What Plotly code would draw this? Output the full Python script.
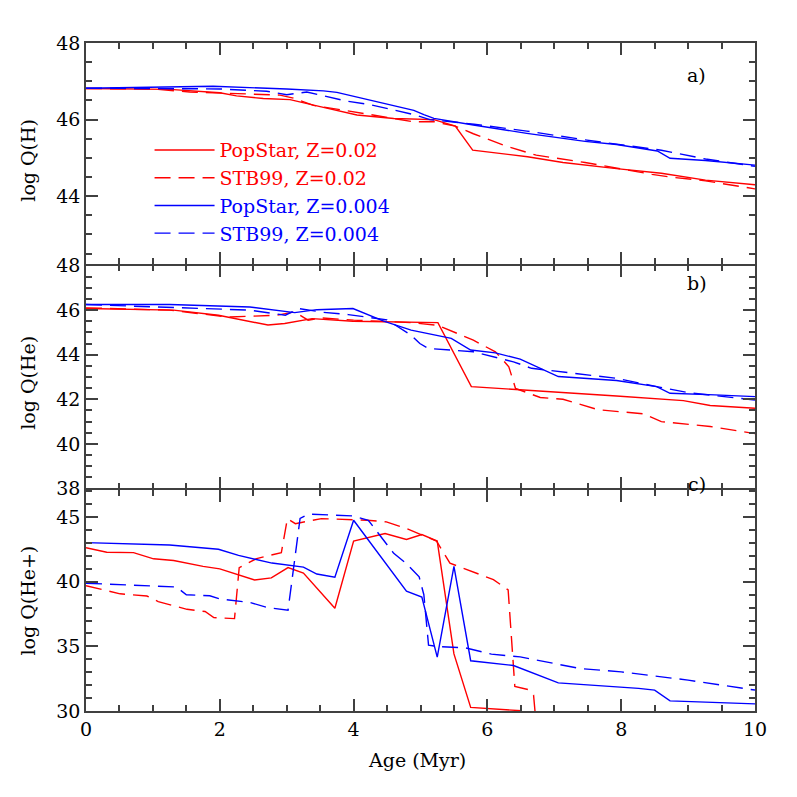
import plotly.graph_objects as go
from plotly.subplots import make_subplots

# ---------------- Panel a) log Q(H) ----------------
a_pop02_x = [0, 1.25, 2.0, 2.25, 2.65, 3.05, 3.5, 4.05, 4.6, 5.2, 5.52, 5.78, 6.6, 7.13, 7.93, 8.6, 9.26, 10]
a_pop02_y = [46.81, 46.79, 46.7, 46.62, 46.55, 46.52, 46.34, 46.12, 46.03, 46.0, 45.83, 45.2, 45.03, 44.88, 44.72, 44.6, 44.42, 44.3]
a_stb02_x = [0, 1.0, 1.55, 2.2, 2.9, 3.1, 3.4, 4.15, 4.9, 5.19, 5.52, 5.79, 6.26, 6.73, 7.46, 8.46, 8.73, 9.26, 10]
a_stb02_y = [46.81, 46.8, 46.72, 46.69, 46.64, 46.56, 46.37, 46.16, 45.94, 45.95, 45.83, 45.63, 45.32, 45.07, 44.88, 44.57, 44.5, 44.4, 44.19]
a_pop004_x = [0, 1.9, 3.0, 3.55, 3.75, 4.4, 4.9, 5.05, 5.2, 5.79, 6.59, 7.46, 7.93, 8.54, 8.73, 9.26, 10]
a_pop004_y = [46.82, 46.87, 46.8, 46.75, 46.71, 46.44, 46.24, 46.13, 46.03, 45.86, 45.64, 45.43, 45.35, 45.18, 44.99, 44.93, 44.81]
a_stb004_x = [0, 2.0, 2.7, 3.0, 3.3, 3.9, 4.25, 4.9, 5.14, 5.8, 6.59, 7.46, 8.6, 9.0, 9.26, 10]
a_stb004_y = [46.82, 46.8, 46.74, 46.65, 46.72, 46.48, 46.39, 46.13, 46.0, 45.88, 45.7, 45.47, 45.2, 45.07, 44.97, 44.78]

# ---------------- Panel b) log Q(He) ----------------
b_pop02_x = [0, 1.31, 1.98, 2.72, 2.97, 3.38, 3.99, 5.26, 5.76, 6.59, 7.93, 8.93, 9.33, 10]
b_pop02_y = [46.07, 46.0, 45.77, 45.33, 45.4, 45.62, 45.5, 45.44, 42.57, 42.42, 42.15, 41.94, 41.72, 41.6]
b_stb02_x = [0, 1.25, 2.12, 2.85, 3.12, 3.32, 3.52, 4.0, 4.86, 5.26, 5.79, 6.12, 6.32, 6.42, 6.79, 7.13, 7.66, 8.33, 8.6, 9.33, 10]
b_stb02_y = [46.1, 46.0, 45.69, 45.77, 45.92, 45.55, 45.65, 45.55, 45.44, 45.32, 44.65, 44.13, 43.46, 42.49, 42.08, 42.0, 41.53, 41.35, 41.0, 40.78, 40.46]
b_pop004_x = [0, 1.25, 2.45, 3.12, 3.45, 3.78, 3.99, 4.45, 4.86, 5.46, 5.75, 6.12, 6.49, 7.06, 7.93, 8.53, 8.73, 9.4, 10]
b_pop004_y = [46.25, 46.25, 46.14, 45.89, 46.02, 46.07, 46.07, 45.51, 45.1, 44.73, 44.21, 44.08, 43.8, 43.02, 42.84, 42.57, 42.27, 42.2, 42.12]
b_stb004_x = [0, 2.45, 2.98, 3.18, 3.55, 3.92, 4.5, 4.86, 4.99, 5.12, 5.79, 6.39, 6.66, 6.99, 7.93, 8.53, 9.0, 10]
b_stb004_y = [46.25, 46.0, 45.77, 46.07, 45.9, 45.8, 45.56, 44.88, 44.5, 44.28, 44.13, 43.68, 43.39, 43.27, 42.94, 42.57, 42.3, 41.97]

# ---------------- Panel c) log Q(He+) ----------------
c_pop02_x = [0, 0.31, 0.71, 1.01, 1.31, 1.75, 2.0, 2.52, 2.77, 3.02, 3.25, 3.72, 4.0, 4.47, 4.79, 5.02, 5.25, 5.5, 5.75, 6.51]
c_pop02_y = [42.64, 42.29, 42.26, 41.78, 41.65, 41.19, 41.0, 40.14, 40.3, 41.1, 40.68, 37.95, 43.15, 43.74, 43.28, 43.66, 43.15, 34.42, 30.28, 30.02]
c_stb02_x = [0, 0.51, 0.91, 1.08, 1.51, 1.78, 1.91, 2.22, 2.29, 2.55, 2.92, 3.01, 3.13, 3.52, 4.2, 4.49, 4.79, 5.24, 5.44, 5.69, 6.09, 6.31, 6.41, 6.61, 6.69, 6.72]
c_stb02_y = [39.7, 39.07, 38.9, 38.47, 37.87, 37.7, 37.23, 37.15, 41.1, 41.8, 42.26, 44.89, 44.5, 44.89, 44.76, 44.64, 44.12, 43.15, 41.44, 40.93, 40.17, 39.37, 31.9, 31.66, 31.23, 29.5]
c_pop004_x = [0, 1.25, 1.98, 2.28, 2.78, 3.25, 3.45, 3.72, 4.0, 4.79, 5.02, 5.25, 5.5, 5.75, 6.39, 7.06, 8.26, 8.5, 8.73, 10]
c_pop004_y = [43.03, 42.85, 42.52, 42.04, 41.45, 41.14, 40.6, 40.35, 44.76, 39.28, 38.82, 34.17, 41.2, 33.89, 33.52, 32.18, 31.75, 31.62, 30.78, 30.55]
c_stb004_x = [0, 1.35, 1.5, 1.85, 2.0, 2.45, 2.72, 3.02, 3.2, 3.32, 3.99, 4.22, 4.6, 4.79, 4.98, 5.05, 5.12, 5.24, 5.68, 6.06, 6.49, 7.39, 8.0, 9.0, 10]
c_stb004_y = [39.89, 39.6, 39.0, 38.92, 38.68, 38.4, 38.0, 37.8, 44.9, 45.24, 45.1, 44.76, 42.2, 41.4, 40.38, 39.0, 35.1, 35.0, 34.88, 34.4, 34.19, 33.28, 33.03, 32.39, 31.62]

series_names = ["PopStar, Z=0.02", "STB99, Z=0.02", "PopStar, Z=0.004", "STB99, Z=0.004"]
y_titles = ["log Q(H)", "log Q(He)", "log Q(He+)"]
panel_tags = ["a)", "b)", "c)"]

RED = "#ff0000"
BLUE = "#0000ff"
DASH = "16px,8px"
FONT = "DejaVu Serif"
AXC = "#404040"
LW = 1.6

series = [
    (series_names[0], RED, "solid", [(a_pop02_x, a_pop02_y), (b_pop02_x, b_pop02_y), (c_pop02_x, c_pop02_y)]),
    (series_names[1], RED, DASH, [(a_stb02_x, a_stb02_y), (b_stb02_x, b_stb02_y), (c_stb02_x, c_stb02_y)]),
    (series_names[2], BLUE, "solid", [(a_pop004_x, a_pop004_y), (b_pop004_x, b_pop004_y), (c_pop004_x, c_pop004_y)]),
    (series_names[3], BLUE, DASH, [(a_stb004_x, a_stb004_y), (b_stb004_x, b_stb004_y), (c_stb004_x, c_stb004_y)]),
]

fig = make_subplots(rows=3, cols=1, shared_xaxes=True, vertical_spacing=LW / 668,
                    row_heights=[222, 224, 222])

for i, (name, color, dash, panels) in enumerate(series):
    for r, (xs, ys) in enumerate(panels, start=1):
        fig.add_trace(go.Scatter(
            x=xs, y=ys, mode="lines",
            line=dict(color=color, width=1.4, dash=dash),
            name=f"<span style='color:{color}'>{name}</span>",
            showlegend=(r == 1), hoverinfo="skip"),
            row=r, col=1)

axstyle = dict(showline=True, linecolor=AXC, linewidth=LW, mirror="allticks",
               ticks="inside", ticklen=12, tickwidth=1.5, tickcolor=AXC,
               showgrid=False, zeroline=False,
               tickfont=dict(family=FONT, size=19, color="black"))

for r in (1, 2, 3):
    fig.update_xaxes(range=[0, 10], tick0=0, dtick=2,
                     minor=dict(dtick=0.5, ticks="inside", ticklen=6, tickwidth=1.5,
                                tickcolor=AXC, showgrid=False),
                     row=r, col=1, **axstyle)

fig.update_yaxes(range=[42.23, 48], tick0=44, dtick=2,
                 minor=dict(dtick=0.5, ticks="inside", ticklen=6, tickwidth=1.5, tickcolor=AXC, showgrid=False),
                 row=1, col=1, **axstyle)
fig.update_yaxes(range=[38, 48], tick0=38, dtick=2,
                 minor=dict(dtick=0.5, ticks="inside", ticklen=6, tickwidth=1.5, tickcolor=AXC, showgrid=False),
                 row=2, col=1, **axstyle)
fig.update_yaxes(range=[30, 47.1], tick0=30, dtick=5,
                 minor=dict(dtick=1, ticks="inside", ticklen=6, tickwidth=1.5, tickcolor=AXC, showgrid=False),
                 row=3, col=1, **axstyle)

annotations = []
title_y = [0.825, 0.491, 0.165]
for t, yy in zip(y_titles, title_y):
    annotations.append(dict(text=t, xref="paper", yref="paper", x=-0.087, y=yy,
                            textangle=-90, showarrow=False, xanchor="center", yanchor="middle",
                            font=dict(family=FONT, size=19, color="black")))
tag_y = [0.952, 0.641, 0.34]
for t, yy in zip(panel_tags, tag_y):
    annotations.append(dict(text=t, xref="paper", yref="paper", x=0.913, y=yy,
                            showarrow=False, xanchor="center", yanchor="middle",
                            font=dict(family=FONT, size=19, color="black")))
annotations.append(dict(text="Age (Myr)", xref="paper", yref="paper", x=0.495, y=-0.074,
                        showarrow=False, xanchor="center", yanchor="middle",
                        font=dict(family=FONT, size=19, color="black")))

fig.update_layout(
    width=789, height=789,
    margin=dict(l=78, r=42, t=35, b=86),
    paper_bgcolor="white", plot_bgcolor="white",
    font=dict(family=FONT, size=18, color="black"),
    showlegend=True,
    legend=dict(x=0.095, y=0.868, xanchor="left", yanchor="top",
                bgcolor="rgba(0,0,0,0)", borderwidth=0,
                font=dict(family=FONT, size=19),
                itemwidth=60, tracegroupgap=0),
    annotations=annotations,
)

fig.write_html("out.html")
